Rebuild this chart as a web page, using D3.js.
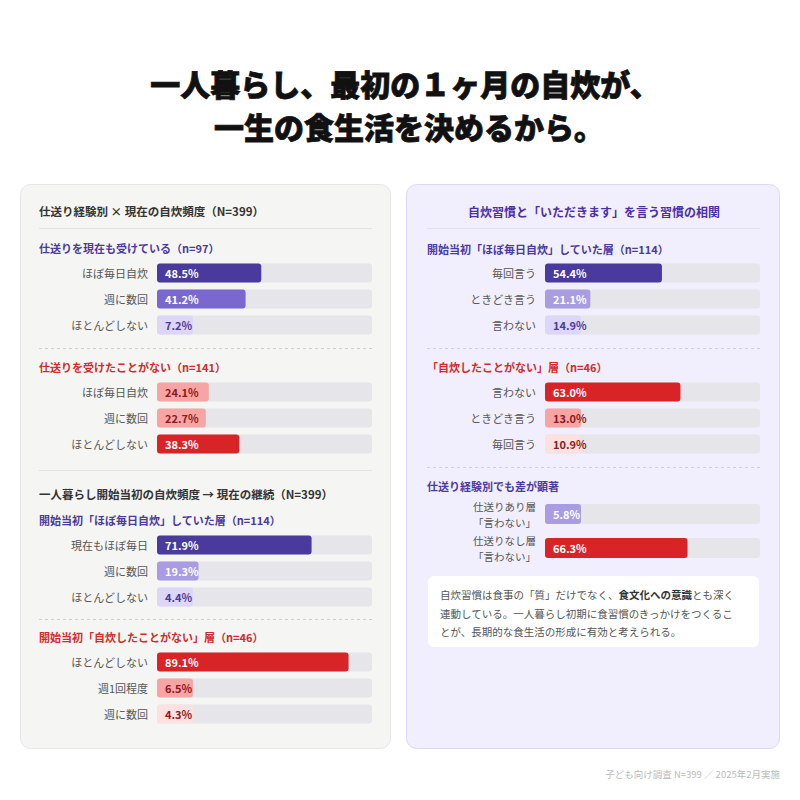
<!DOCTYPE html>
<html>
<head>
<meta charset="utf-8">
<script src="https://cdn.jsdelivr.net/npm/d3@7"></script>
<style>
  html, body { margin: 0; padding: 0; background: #fff; }
  svg text { font-family: "Noto Sans CJK JP", "Noto Sans", sans-serif; }
</style>
</head>
<body>
<div id="chart"></div>
<script>
// ---- data ----
const titleLines = ["一人暮らし、最初の１ヶ月の自炊が、", "一生の食生活を決めるから。"];

const leftTitle1 = "仕送り経験別 × 現在の自炊頻度（N=399）";
const leftTitle2 = "一人暮らし開始当初の自炊頻度 → 現在の継続（N=399）";
const rightTitle = "自炊習慣と「いただきます」を言う習慣の相関";

const g1Head = "仕送りを現在も受けている（n=97）";
const g1Labels = ["ほぼ毎日自炊", "週に数回", "ほとんどしない"];
const g1Values = [48.5, 41.2, 7.2];

const g2Head = "仕送りを受けたことがない（n=141）";
const g2Labels = ["ほぼ毎日自炊", "週に数回", "ほとんどしない"];
const g2Values = [24.1, 22.7, 38.3];

const g3Head = "開始当初「ほぼ毎日自炊」していた層（n=114）";
const g3Labels = ["現在もほぼ毎日", "週に数回", "ほとんどしない"];
const g3Values = [71.9, 19.3, 4.4];

const g4Head = "開始当初「自炊したことがない」層（n=46）";
const g4Labels = ["ほとんどしない", "週1回程度", "週に数回"];
const g4Values = [89.1, 6.5, 4.3];

const r1Head = "開始当初「ほぼ毎日自炊」していた層（n=114）";
const r1Labels = ["毎回言う", "ときどき言う", "言わない"];
const r1Values = [54.4, 21.1, 14.9];

const r2Head = "「自炊したことがない」層（n=46）";
const r2Labels = ["言わない", "ときどき言う", "毎回言う"];
const r2Values = [63.0, 13.0, 10.9];

const r3Head = "仕送り経験別でも差が顕著";
const r3Labels = [["仕送りあり層", "「言わない」"], ["仕送りなし層", "「言わない」"]];
const r3Values = [5.8, 66.3];

const noteLines = [
  [["自炊習慣は食事の「質」だけでなく、", false], ["食文化への意識", true], ["とも深く", false]],
  [["連動している。一人暮らし初期に食習慣のきっかけをつくるこ", false]],
  [["とが、長期的な食生活の形成に有効と考えられる。", false]]
];
const footText = "子ども向け調査 N=399 ／ 2025年2月実施";

// ---- styles ----
const palette = {
  p1: { fill: "#4a3a9e", text: "#ffffff" },
  p2: { fill: "#7a67cf", text: "#ffffff" },
  p3: { fill: "#a99ce2", text: "#ffffff" },
  p4: { fill: "#dcd6f8", text: "#4a3a9e" },
  r1: { fill: "#d92427", text: "#ffffff" },
  r2: { fill: "#f7a4a4", text: "#8b1a1c" },
  r3: { fill: "#fde0e0", text: "#8b1a1c" }
};
const g1Tones = ["p1", "p2", "p4"];
const g2Tones = ["r2", "r2", "r1"];
const g3Tones = ["p1", "p3", "p4"];
const g4Tones = ["r1", "r2", "r3"];
const r1Tones = ["p1", "p3", "p4"];
const r2Tones = ["r1", "r2", "r3"];
const r3Tones = ["p3", "r1"];

const purple = "#4a3a9e";
const red = "#d42a2a";

const W = 800, H = 800;
const svg = d3.select("#chart").append("svg")
  .attr("width", W).attr("height", H);

// title (a thin stroke makes it look heavier, like the reference)
svg.selectAll(".title").data(titleLines).enter().append("text")
  .attr("x", (d, i) => 405 + i * 4)
  .attr("y", (d, i) => 83 + i * 43)
  .attr("text-anchor", "middle")
  .attr("dominant-baseline", "central")
  .style("font-size", "30px")
  .style("font-weight", 900)
  .attr("fill", "#111")
  .attr("stroke", "#111")
  .attr("stroke-width", 0.8)
  .text(d => d);

// panels
svg.append("rect")
  .attr("x", 20.5).attr("y", 184.5).attr("width", 370).attr("height", 564)
  .attr("rx", 10).attr("fill", "#f5f5f4").attr("stroke", "#e6e6e6");
svg.append("rect")
  .attr("x", 406.5).attr("y", 184.5).attr("width", 373).attr("height", 564)
  .attr("rx", 10).attr("fill", "#f1effd").attr("stroke", "#dcd8f4");

function heading(x, y, txt, color, size, anchor) {
  svg.append("text")
    .attr("x", x).attr("y", y)
    .attr("text-anchor", anchor || "start")
    .attr("dominant-baseline", "central")
    .style("font-size", size + "px")
    .style("font-weight", 700)
    .attr("fill", color)
    .text(txt);
}

function rule(x1, x2, y, dashed) {
  svg.append("line")
    .attr("x1", x1).attr("x2", x2).attr("y1", y + 0.5).attr("y2", y + 0.5)
    .attr("stroke", dashed ? "#cfcfd4" : "#e2e2e4")
    .attr("stroke-width", 1)
    .attr("stroke-dasharray", dashed ? "3,3" : null);
}

// one group of horizontal bars
function barGroup(opt) {
  const x = d3.scaleLinear().domain([0, 100]).range([opt.x0, opt.x1]);
  const idx = opt.values.map((d, i) => i);
  const y = d3.scaleBand().domain(idx)
    .range([opt.top, opt.top + opt.step * idx.length])
    .paddingInner(opt.pad).paddingOuter(opt.pad / 2);
  const g = svg.append("g");
  const rows = g.selectAll(".row").data(idx).enter().append("g");

  rows.append("rect")
    .attr("x", x(0)).attr("y", i => y(i))
    .attr("width", x(100) - x(0)).attr("height", y.bandwidth())
    .attr("rx", 3).attr("fill", "#e6e6ea");

  rows.append("rect")
    .attr("x", x(0)).attr("y", i => y(i))
    .attr("width", i => Math.max(x(opt.values[i]) - x(0), 36))
    .attr("height", y.bandwidth())
    .attr("rx", 3)
    .attr("fill", i => palette[opt.tones[i]].fill);

  rows.append("text")
    .attr("x", x(0) + 8)
    .attr("y", i => y(i) + y.bandwidth() / 2)
    .attr("dominant-baseline", "central")
    .style("font-size", "11px")
    .style("font-weight", 700)
    .attr("fill", i => palette[opt.tones[i]].text)
    .text(i => opt.values[i].toFixed(1) + "%");

  // category labels, one text per row (two-line labels use tspans)
  rows.each(function(i) {
    const lab = opt.labels[i];
    const lines = Array.isArray(lab) ? lab : [lab];
    const cy = y(i) + y.bandwidth() / 2;
    const multi = lines.length > 1;
    const t = d3.select(this).append("text")
      .attr("text-anchor", "end")
      .attr("dominant-baseline", "central")
      .style("font-size", multi ? "10.5px" : "11px")
      .attr("fill", "#555");
    lines.forEach((d, k) => {
      t.append("tspan")
        .attr("x", opt.x0 - 9)
        .attr("y", cy + (k - (lines.length - 1) / 2) * 15.5)
        .text(d);
    });
  });
}

// ---- left panel ----
heading(39, 211, leftTitle1, "#333", 11.5);
rule(39, 372, 228, false);
heading(39, 248, g1Head, purple, 11);
barGroup({ x0: 157, x1: 372, top: 260, step: 26, pad: 0.27, labels: g1Labels, values: g1Values, tones: g1Tones });
rule(39, 372, 348, true);
heading(39, 367, g2Head, red, 11);
barGroup({ x0: 157, x1: 372, top: 379, step: 26, pad: 0.27, labels: g2Labels, values: g2Values, tones: g2Tones });
rule(39, 372, 470, false);
heading(39, 494, leftTitle2, "#333", 11.5);
heading(39, 520, g3Head, purple, 11);
barGroup({ x0: 157, x1: 372, top: 532, step: 26, pad: 0.27, labels: g3Labels, values: g3Values, tones: g3Tones });
rule(39, 372, 619, true);
heading(39, 637, g4Head, red, 11);
barGroup({ x0: 157, x1: 372, top: 649, step: 26, pad: 0.27, labels: g4Labels, values: g4Values, tones: g4Tones });

// ---- right panel ----
heading(594, 211, rightTitle, "#4b2fa8", 12, "middle");
rule(427, 760, 228, false);
heading(427, 249, r1Head, purple, 11);
barGroup({ x0: 545, x1: 760, top: 260, step: 26, pad: 0.27, labels: r1Labels, values: r1Values, tones: r1Tones });
rule(427, 760, 348, true);
heading(427, 367, r2Head, red, 11);
barGroup({ x0: 545, x1: 760, top: 379, step: 26, pad: 0.27, labels: r2Labels, values: r2Values, tones: r2Tones });
rule(427, 760, 467, true);
heading(427, 486, r3Head, purple, 11);
barGroup({ x0: 545, x1: 760, top: 497, step: 34, pad: 0.41, labels: r3Labels, values: r3Values, tones: r3Tones });

// note box
svg.append("rect")
  .attr("x", 428).attr("y", 576).attr("width", 331).attr("height", 71)
  .attr("rx", 6).attr("fill", "#ffffff");
const note = svg.append("g");
noteLines.forEach((parts, li) => {
  const t = note.append("text")
    .attr("x", 440).attr("y", 594 + li * 18.5)
    .attr("dominant-baseline", "central")
    .style("font-size", "10.5px")
    .attr("fill", "#555");
  parts.forEach(p => {
    t.append("tspan")
      .style("font-weight", p[1] ? 700 : 400)
      .attr("fill", p[1] ? "#333" : "#555")
      .text(p[0]);
  });
});

// footer
svg.append("text")
  .attr("x", 780).attr("y", 774)
  .attr("text-anchor", "end")
  .attr("dominant-baseline", "central")
  .style("font-size", "9.5px")
  .attr("fill", "#bbb")
  .text(footText);
</script>
</body>
</html>
